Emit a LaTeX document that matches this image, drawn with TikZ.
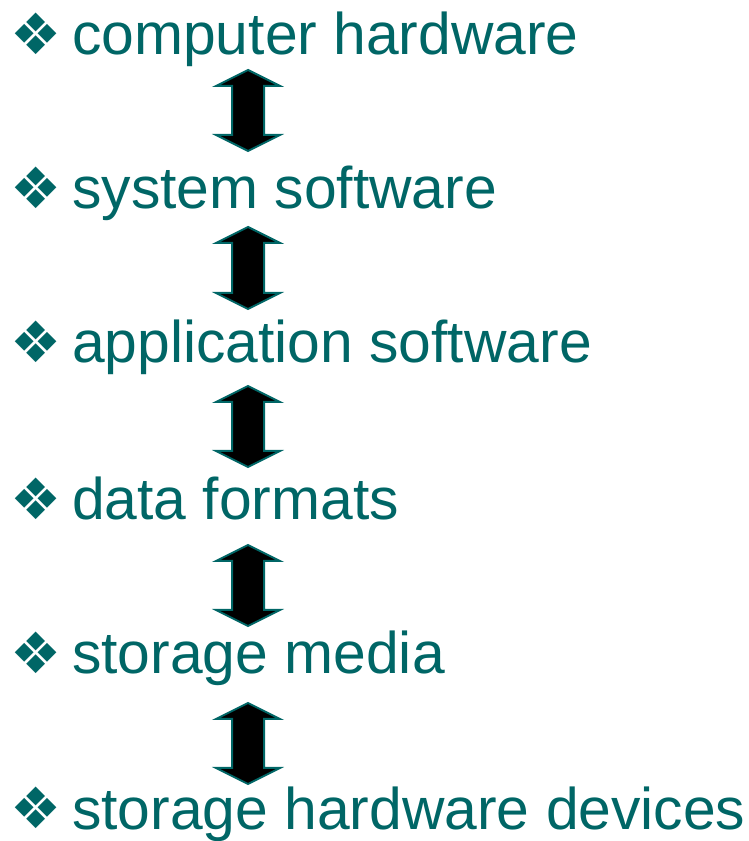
\documentclass[tikz,border=0pt]{standalone}
\usepackage{fontspec}
\setmainfont{Liberation Sans}
\newfontfamily\symfont{DejaVu Sans}
\usepackage{tikz}
\usetikzlibrary{calc}
\definecolor{myteal}{RGB}{0,102,102}
\tikzset{
  item/.style={anchor=base west, inner sep=0pt, text=myteal,
    font=\fontsize{58.8}{70}\selectfont},
  bullet/.style={anchor=center, inner sep=0pt, text=myteal,
    font=\symfont\fontsize{57}{64}\selectfont},
  blockarr/.style={draw=myteal, fill=black, line width=2pt, line join=miter}
}
% double block arrow between a top and a bottom point
\newcommand{\updown}[2]{%
  \draw[blockarr] (#1) -- ++(32,-16) -- ++(-16,0) -- ($(#2)+(16,16)$)
    -- ++(16,0) -- (#2) -- ++(-32,16) -- ++(16,0)
    -- ($(#1)+(-16,-16)$) -- ++(-16,0) -- cycle;}

\begin{document}
\begin{tikzpicture}[x=1pt, y=1pt]
  \useasboundingbox (0,0) rectangle (748,841);
  \node[item] (hw) at (72,786) {computer hardware};
  \node[item] (sys) at (72,632) {system software};
  \node[item] (app) at (72,478) {application software};
  \node[item] (fmt) at (72,321) {data formats};
  \node[item] (media) at (72,167) {storage media};
  \node[item] (dev) at (72,12) {storage hardware devices};
  \node[bullet] (b1) at (36.5,807) {❖};
  \node[bullet] (b2) at (36.5,653) {❖};
  \node[bullet] (b3) at (36.5,499) {❖};
  \node[bullet] (b4) at (36.5,342) {❖};
  \node[bullet] (b5) at (36.5,188) {❖};
  \node[bullet] (b6) at (36.5,33) {❖};
  \coordinate (u1) at (248,771); \coordinate (d1) at (248,690);
  \coordinate (u2) at (248,614); \coordinate (d2) at (248,532);
  \coordinate (u3) at (248,455); \coordinate (d3) at (248,374);
  \coordinate (u4) at (248,296); \coordinate (d4) at (248,215);
  \coordinate (u5) at (248,138); \coordinate (d5) at (248,57);
  \updown{u1}{d1}
  \updown{u2}{d2}
  \updown{u3}{d3}
  \updown{u4}{d4}
  \updown{u5}{d5}
\end{tikzpicture}
\end{document}
